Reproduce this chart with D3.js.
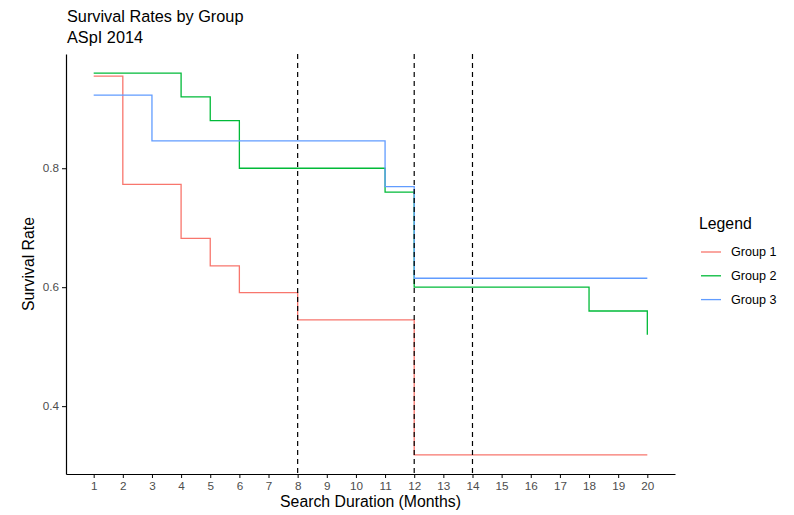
<!DOCTYPE html>
<html>
<head>
<meta charset="utf-8">
<script src="https://cdn.jsdelivr.net/npm/d3@7"></script>
<style>
  body { margin: 0; background: #fff; }
  svg { font-family: "Liberation Sans", Arial, sans-serif; }
  .tick text { fill: #4d4d4d; font-size: 11.7px; }
  .tick line { stroke: #000; }
</style>
</head>
<body>
<svg id="chart" width="794" height="515"></svg>
<script>
'use strict';
// months 1..20, survival rate at each month
let months = d3.range(1, 21);
let group1 = [0.955, 0.773, 0.773, 0.682, 0.636, 0.591, 0.591, 0.545, 0.545, 0.545,
              0.545, 0.318, 0.318, 0.318, 0.318, 0.318, 0.318, 0.318, 0.318, 0.318];
let group2 = [0.96, 0.96, 0.96, 0.92, 0.88, 0.80, 0.80, 0.80, 0.80, 0.80,
              0.76, 0.60, 0.60, 0.60, 0.60, 0.60, 0.60, 0.56, 0.56, 0.52];
let group3 = [0.923, 0.923, 0.846, 0.846, 0.846, 0.846, 0.846, 0.846, 0.846, 0.846,
              0.769, 0.615, 0.615, 0.615, 0.615, 0.615, 0.615, 0.615, 0.615, 0.615];
let groupNames = ["Group 1", "Group 2", "Group 3"];
let groupColors = ["#F8766D", "#00BA38", "#619CFF"];
let refLines = [8, 12, 14];
let yTicks = [0.4, 0.6, 0.8];

let series = [group1, group2, group3].map((vals, i) => ({
    name: groupNames[i],
    color: groupColors[i],
    data: vals.map((v, j) => ({month: months[j], rate: v}))
}));

let svg = d3.select("#chart"),
    margin = {top: 54, right: 119, bottom: 41, left: 66},
    width = +svg.attr("width"),
    height = +svg.attr("height");
let font = "'Liberation Sans', Arial, sans-serif";

// ggplot style 5% expansion
let xExt = d3.extent(months), xPad = (xExt[1] - xExt[0]) * 0.05;
let allRates = [].concat(group1, group2, group3);
let yExt = d3.extent(allRates), yPad = (yExt[1] - yExt[0]) * 0.05;

let x = d3.scaleLinear()
    .domain([xExt[0] - xPad, xExt[1] + xPad])
    .range([margin.left, width - margin.right]);
let y = d3.scaleLinear()
    .domain([yExt[0] - yPad, yExt[1] + yPad])
    .range([height - margin.bottom, margin.top]);

// step lines
let line = d3.line()
    .curve(d3.curveStepAfter)
    .x(d => x(d.month))
    .y(d => y(d.rate));

svg.selectAll("path.series")
    .data(series)
    .enter().append("path")
    .attr("class", "series")
    .attr("fill", "none")
    .attr("stroke", d => d.color)
    .attr("stroke-width", 1.3)
    .attr("d", d => line(d.data));

// dashed reference lines
svg.selectAll("line.ref")
    .data(refLines)
    .enter().append("line")
    .attr("class", "ref")
    .attr("x1", d => x(d)).attr("x2", d => x(d))
    .attr("y1", margin.top).attr("y2", height - margin.bottom)
    .attr("stroke", "#000")
    .attr("stroke-width", 1.2)
    .attr("stroke-dasharray", "5,4");

// axes
let xAxis = svg.append("g")
    .attr("transform", "translate(0," + (height - margin.bottom) + ")")
    .call(d3.axisBottom(x).tickValues(months).tickSize(4).tickSizeOuter(0).tickPadding(4))
    .attr("font-family", font);
xAxis.select(".domain").attr("stroke", "#000").attr("stroke-width", 1.2);

let yAxis = svg.append("g")
    .attr("transform", "translate(" + margin.left + ",0)")
    .call(d3.axisLeft(y).tickValues(yTicks).tickFormat(d3.format(".1f")).tickSize(4).tickSizeOuter(0).tickPadding(3))
    .attr("font-family", font);
yAxis.select(".domain").attr("stroke", "#000").attr("stroke-width", 1.2);

// axis titles
svg.append("text")
    .attr("x", (margin.left + width - margin.right) / 2)
    .attr("y", 507)
    .attr("text-anchor", "middle")
    .style("font-size", "15.8px")
    .text("Search Duration (Months)");

svg.append("text")
    .attr("transform", "translate(34," + ((margin.top + height - margin.bottom) / 2) + ") rotate(-90)")
    .attr("text-anchor", "middle")
    .style("font-size", "15.8px")
    .text("Survival Rate");

// title
svg.append("text")
    .attr("x", 67).attr("y", 22)
    .style("font-size", "16.3px")
    .text("Survival Rates by Group");
svg.append("text")
    .attr("x", 67).attr("y", 43)
    .style("font-size", "16.3px")
    .text("ASpI 2014");

// legend
let legend = svg.append("g").attr("transform", "translate(699,0)");
legend.append("text")
    .attr("x", 0).attr("y", 229)
    .style("font-size", "15.8px")
    .text("Legend");
let items = legend.selectAll("g.item")
    .data(series)
    .enter().append("g")
    .attr("class", "item")
    .attr("transform", (d, i) => "translate(0," + (252 + i * 23.8) + ")");
items.append("line")
    .attr("x1", 2).attr("x2", 22)
    .attr("stroke", d => d.color)
    .attr("stroke-width", 1.3);
items.append("text")
    .attr("x", 32).attr("dy", "0.35em")
    .style("font-size", "12.6px")
    .text(d => d.name);
</script>
</body>
</html>
